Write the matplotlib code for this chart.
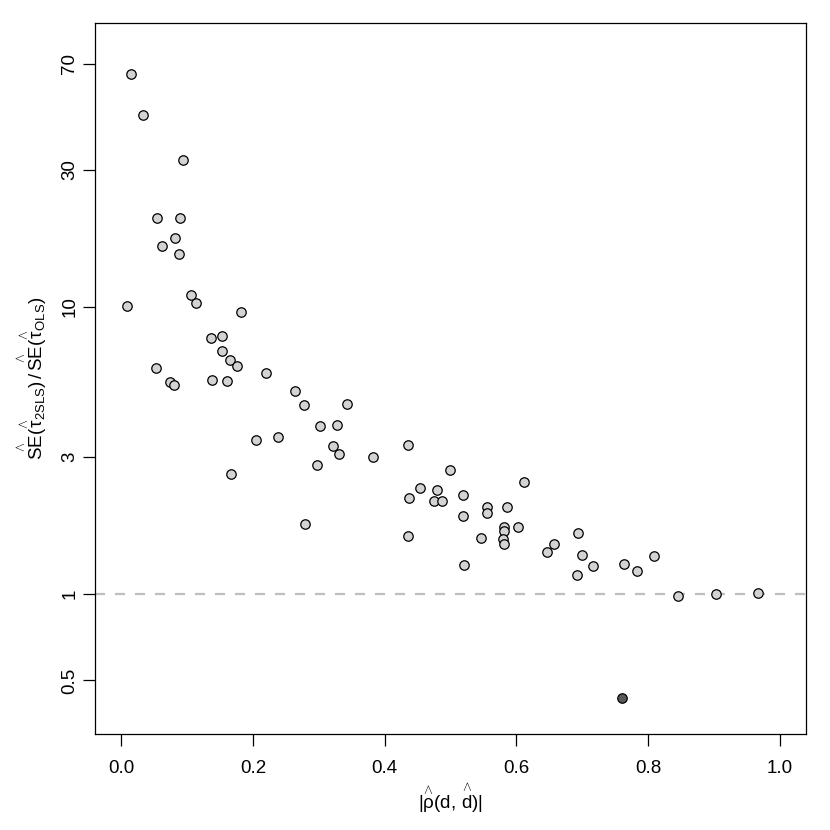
import numpy as np
import matplotlib
matplotlib.use('Agg')
import matplotlib.pyplot as plt

# |rho_hat(d, d_hat)| and SE ratio (2SLS / OLS)
rho = [0.014, 0.033, 0.094, 0.054, 0.089, 0.082, 0.062, 0.087, 0.106, 0.114,
       0.009, 0.181, 0.136, 0.153, 0.153, 0.165, 0.176, 0.052, 0.074, 0.080,
       0.138, 0.160, 0.220, 0.264, 0.277, 0.343, 0.302, 0.327, 0.204, 0.238,
       0.322, 0.330, 0.297, 0.382, 0.435, 0.166, 0.437, 0.279, 0.436, 0.499,
       0.453, 0.480, 0.475, 0.487, 0.519, 0.612, 0.519, 0.556, 0.556, 0.586,
       0.581, 0.581, 0.603, 0.580, 0.582, 0.546, 0.520, 0.646, 0.657, 0.693,
       0.700, 0.692, 0.717, 0.763, 0.783, 0.809, 0.845, 0.904, 0.967]
se_ratio = [64.5, 46.5, 32.5, 20.4, 20.4, 17.3, 16.2, 15.3, 10.95, 10.27,
            10.05, 9.58, 7.75, 7.88, 7.0, 6.50, 6.21, 6.10, 5.45, 5.32,
            5.54, 5.51, 5.89, 5.09, 4.53, 4.58, 3.85, 3.87, 3.43, 3.52,
            3.27, 3.06, 2.82, 3.00, 3.29, 2.62, 2.16, 1.757, 1.59, 2.71,
            2.33, 2.30, 2.10, 2.10, 2.21, 2.45, 1.864, 2.01, 1.908, 2.00,
            1.715, 1.651, 1.715, 1.557, 1.496, 1.570, 1.264, 1.403, 1.496, 1.629,
            1.365, 1.167, 1.250, 1.274, 1.201, 1.354, 0.980, 0.998, 1.010]

# the one highlighted case
rho_hl = [0.761]
se_hl = [0.433]

yticks = [0.5, 1, 3, 10, 30, 70]
ytick_labels = ['0.5', '1', '3', '10', '30', '70']
xticks = [0.0, 0.2, 0.4, 0.6, 0.8, 1.0]
xtick_labels = ['0.0', '0.2', '0.4', '0.6', '0.8', '1.0']

plt.rcParams['font.family'] = ['Liberation Sans', 'DejaVu Sans']
plt.rcParams['mathtext.fontset'] = 'custom'
plt.rcParams['mathtext.rm'] = 'Liberation Sans'
plt.rcParams['mathtext.it'] = 'Liberation Sans'
plt.rcParams['mathtext.bf'] = 'Liberation Sans:bold'

fs = 13.5
fig = plt.figure(figsize=(8.3, 8.3), dpi=100)
ax = fig.add_axes([0.1145, 0.1157, 0.971 - 0.1145, 0.9723 - 0.1157])

# reference line at ratio 1
ax.axhline(1, color='#bebebe', lw=1.6, dashes=(4.5, 4.5), zorder=1)
ax.plot(rho, se_ratio, 'o', ms=6.8, mfc='#d3d3d3', mec='black', mew=0.9,
        linestyle='none', zorder=3)
ax.plot(rho_hl, se_hl, 'o', ms=6.8, mfc='#595959', mec='black', mew=0.9,
        linestyle='none', zorder=3)

ax.set_yscale('log')
ax.set_xlim(-0.04, 1.04)
ax.set_ylim(10 ** -0.4873, 10 ** 1.9875)
ax.set_yticks(yticks)
ax.set_yticklabels(ytick_labels, rotation=90, va='center')
ax.minorticks_off()
ax.set_xticks(xticks)
ax.set_xticklabels(xtick_labels)

ax.tick_params(length=8.6, width=0.9, labelsize=fs)
ax.tick_params(axis='x', pad=10)
ax.tick_params(axis='y', pad=3.5)
for s in ax.spines.values():
    s.set_linewidth(0.9)


def hat(s):
    # R plotmath style caret sitting above the symbol
    return r'\overset{\wedge}{' + s + '}'


ax.set_xlabel(r'$|' + hat(r'\rho') + r'(\mathrm{d},\,' + hat(r'\mathrm{d}') + r')|$',
              fontsize=fs, labelpad=3.5)
ax.set_ylabel(r'$' + hat(r'\mathrm{SE}') + '(' + hat(r'\tau') + r'_{\mathrm{2SLS}})\,/\,'
              + hat(r'\mathrm{SE}') + '(' + hat(r'\tau') + r'_{\mathrm{OLS}})$',
              fontsize=fs, labelpad=9)

fig.savefig('out.png', dpi=100)
